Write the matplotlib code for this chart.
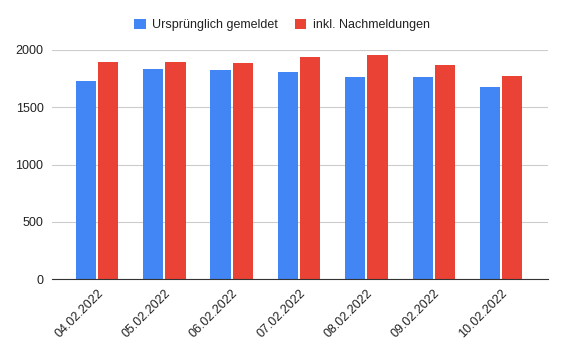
import matplotlib.pyplot as plt
import numpy as np

plt.rcParams['font.family'] = ['Liberation Sans', 'DejaVu Sans']

# Daten
tage = ['04.02.2022', '05.02.2022', '06.02.2022', '07.02.2022',
        '08.02.2022', '09.02.2022', '10.02.2022']
urspruenglich = [1729, 1834, 1825, 1808, 1764, 1764, 1677]
nachmeldungen = [1895, 1895, 1886, 1939, 1956, 1869, 1773]

blau = '#4285F4'
rot = '#EA4335'

fig = plt.figure(figsize=(5.64, 3.52), dpi=100)
ax = fig.add_axes([0.092, 0.207, 0.88, 0.651])

x = np.arange(len(tage))
breite = 0.30
ax.bar(x - breite / 2 - 0.015, urspruenglich, breite, color=blau,
       label='Ursprünglich gemeldet', zorder=3)
ax.bar(x + breite / 2 + 0.015, nachmeldungen, breite, color=rot,
       label='inkl. Nachmeldungen', zorder=3)

ax.set_xlim(-0.67, 6.7)
ax.set_ylim(0, 2000)
ax.set_yticks([0, 500, 1000, 1500, 2000])
ax.yaxis.grid(True, color='#cccccc', linewidth=0.8, zorder=0)
ax.set_axisbelow(True)

for s in ['top', 'right', 'left']:
    ax.spines[s].set_visible(False)
ax.spines['bottom'].set_color('#333333')
ax.spines['bottom'].set_zorder(4)

ax.set_xticks(x)
ax.set_xticklabels(tage, rotation=45, ha='right', rotation_mode='anchor',
                   fontsize=9, color='#222222')
ax.tick_params(axis='x', length=0, pad=6)
ax.tick_params(axis='y', length=0, labelsize=9, labelcolor='#222222', pad=6)

fig.legend(loc='center', bbox_to_anchor=(0.5, 1 - 25 / 352), ncol=2, frameon=False,
           fontsize=9, handlelength=0.95, handleheight=0.95, columnspacing=1.3,
           handletextpad=0.55, labelcolor='#222222', borderpad=0)

fig.savefig('out.png', dpi=100)
